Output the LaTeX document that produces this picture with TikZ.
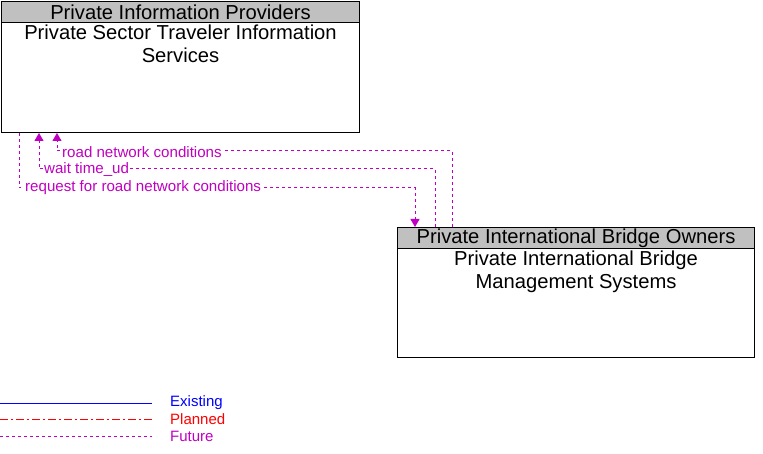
\documentclass[tikz,border=0pt]{standalone}
\usepackage{fontspec}
\setmainfont{Liberation Sans}
\usetikzlibrary{arrows.meta}
\definecolor{fut}{RGB}{192,0,192}
\definecolor{hdrgray}{RGB}{192,192,192}
\tikzset{
  box/.style={draw=black, line width=1pt, fill=white, inner sep=0pt, anchor=north west},
  hdr/.style={draw=black, line width=1pt, fill=hdrgray, inner sep=0pt, anchor=north west, font=\fontsize{20.2}{21}\selectfont},
  body/.style={anchor=north, align=center, inner sep=0pt, font=\fontsize{20.2}{23}\selectfont},
  flow/.style={draw=fut, line width=1pt, dash pattern=on 3pt off 3pt},
  lbl/.style={text=fut, fill=white, inner sep=1pt, anchor=west, yshift=-1pt, font=\fontsize{15.1}{16}\selectfont},
  tip/.style={-{Triangle[length=8pt,width=9pt]}},
  leg/.style={anchor=west, inner sep=0pt, font=\fontsize{15}{16}\selectfont}
}
\begin{document}
\begin{tikzpicture}[x=1pt,y=-1pt]
\useasboundingbox (0,0) rectangle (763,454);
% boxes
\node[box, minimum width=358pt, minimum height=131pt] (b1) at (1,1) {};
\node[hdr, minimum width=358pt, minimum height=21pt] (h1) at (b1.north west) {Private Information Providers};
\node[body] (t1) at ([yshift=-2pt]h1.south) {Private Sector Traveler Information\\Services};
\node[box, minimum width=357pt, minimum height=130pt] (b2) at (397,227) {};
\node[hdr, minimum width=357pt, minimum height=21pt] (h2) at (b2.north west) {Private International Bridge Owners};
\node[body] (t2) at ([yshift=-2pt]h2.south) {Private International Bridge\\Management Systems};
% flows
\draw[flow, tip] ([xshift=55pt]b2.north west) -- ++(0,-76) -| ([xshift=56pt]b1.south west);
\draw[flow, tip] ([xshift=38pt]b2.north west) -- ++(0,-58) -| ([xshift=38pt]b1.south west);
\draw[flow, tip] ([xshift=18pt]b1.south west) -- ++(0,55) -| ([xshift=18pt]b2.north west);
\node[lbl] (l1) at (61,151) {road network conditions};
\node[lbl] (l2) at (43,169) {wait time\_ud};
\node[lbl] (l3) at (24,187) {request for road network conditions};
% legend
\coordinate (e0) at (0,403.5); \coordinate (e1) at (152,403.5);
\coordinate (p0) at (0,419.5); \coordinate (p1) at (152,419.5);
\coordinate (f0) at (0,436.5); \coordinate (f1) at (152,436.5);
\draw[draw=blue, line width=1pt] (e0) -- (e1);
\draw[draw=red, line width=1pt, dash pattern=on 8pt off 3pt on 2pt off 3pt] (p0) -- (p1);
\draw[flow] (f0) -- (f1);
\node[leg, text=blue] (le) at (170,403) {Existing};
\node[leg, text=red] (lp) at (170,419) {Planned};
\node[leg, text=fut] (lf) at (170,436) {Future};
\end{tikzpicture}
\end{document}
